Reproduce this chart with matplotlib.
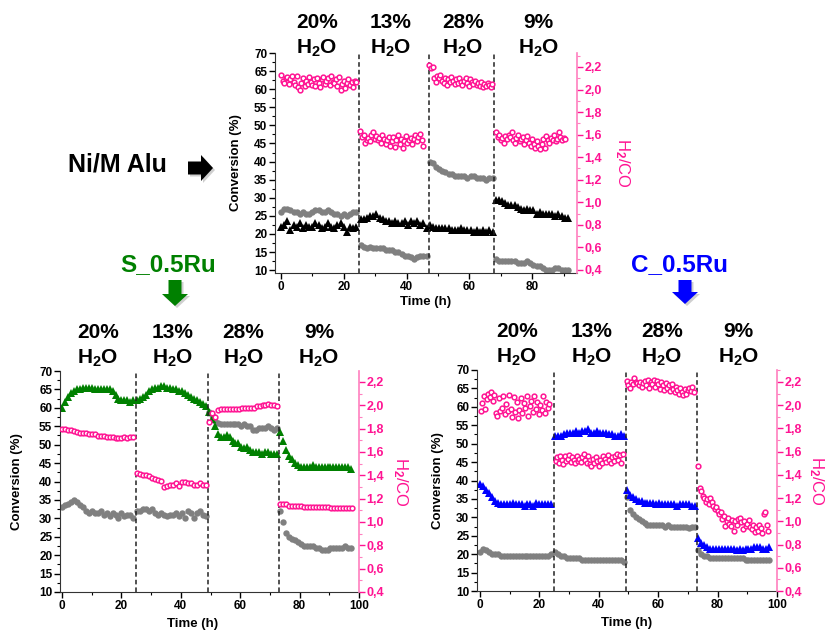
import matplotlib
matplotlib.use('Agg')
import matplotlib.pyplot as plt
import numpy as np
from matplotlib.patches import FancyArrow
from matplotlib.ticker import MultipleLocator, FuncFormatter
from matplotlib.transforms import IdentityTransform

plt.rcParams['font.family'] = ['Liberation Sans', 'DejaVu Sans']
plt.rcParams['font.weight'] = 'bold'
plt.rcParams['mathtext.fontset'] = 'custom'
plt.rcParams['mathtext.rm'] = 'Liberation Sans:bold'
plt.rcParams['mathtext.bf'] = 'Liberation Sans:bold'
plt.rcParams['mathtext.it'] = 'Liberation Sans:bold'

PINK = '#FF1493'
GRAY = '#808080'

headers = ['20%', '13%', '28%', '9%']

# ---- Ni/M Alu (top panel), hourly conversion data, pink = H2/CO every 0.5 h
top_starts = [0, 25.4, 47.4, 68.4]
top_pink_starts = [0, 25.3, 47.3, 68.5]
top_vlines = [25, 47, 68]
top_heads_x = [11.5, 35, 58, 82]
top_gray = [
    [26, 27, 27, 26.5, 26, 26, 25.5, 26, 25.5, 25.5, 26, 26.5, 26.5, 26, 26, 26.5, 26, 25.5, 25.5, 25, 25.5, 25, 25.5, 26, 26],
    [17, 16.5, 16, 16.5, 16, 16, 16, 16, 15.5, 15.5, 15.5, 15, 15, 14.5, 14, 14, 13.5, 13, 13.5, 14, 14, 14],
    [40, 39.5, 38.5, 38, 37.5, 37, 36.5, 36.5, 36, 36, 36, 36, 35.5, 36, 36, 35.5, 35.5, 35.5, 35, 35.5, 35.5],
    [13, 12.5, 12.5, 12.5, 12.5, 12.5, 12.5, 12, 12, 12, 12.5, 12, 11.5, 11, 11, 10.5, 10, 10, 10, 10.5, 10.5, 10, 10, 10],
]
top_tri = [
    [22, 22.5, 23.5, 21, 22.5, 22, 23, 21.5, 22.5, 22, 22, 23, 22.5, 21.5, 22, 23, 22, 21.5, 22.5, 23, 22, 20.5, 22, 21.5, 22],
    [24, 24, 24.5, 25, 25, 25.5, 24.5, 24, 23.5, 23.5, 23, 23.5, 23, 23, 23.5, 22.5, 23.5, 23, 23.5, 22.5, 23, 21.5],
    [22.5, 22, 21.5, 21.5, 21.5, 21.5, 21.5, 21, 21, 21, 21.5, 21, 21, 21, 20.5, 21, 20.5, 21, 20.5, 21, 20.5],
    [29.5, 29.5, 29, 28.5, 28, 28, 28, 27.5, 27, 26.5, 27, 26.5, 26.5, 25.5, 26, 25.5, 25.5, 25.5, 25.5, 25, 25.5, 25, 24.5, 24.5],
]
top_pink = [
    [2.13, 2.08, 2.06, 2.1, 2.11, 2.05, 2.09, 2.12, 2.07, 2.04, 2.12, 2.02, 2.0, 2.06, 2.1, 2.03, 2.08, 2.05, 2.11, 2.07,
     2.04, 2.09, 2.03, 2.1, 2.06, 2.02, 2.09, 2.11, 2.05, 2.08, 2.1, 2.04, 2.12, 2.07, 2.06, 2.09, 2.03, 2.11, 2.0, 2.05,
     2.08, 2.01, 2.06, 2.09, 2.04, 2.07, 2.02, 2.08, 2.07],
    [1.63, 1.58, 1.6, 1.53, 1.55, 1.57, 1.54, 1.6, 1.62, 1.56, 1.59, 1.55, 1.57, 1.53, 1.6, 1.56, 1.52, 1.55, 1.58, 1.5,
     1.54, 1.58, 1.49, 1.55, 1.6, 1.52, 1.56, 1.48, 1.54, 1.59, 1.53, 1.55, 1.57, 1.52, 1.56, 1.6, 1.54, 1.58, 1.61, 1.55, 1.5],
    [2.22, 2.19, 2.2, 2.1, 2.07, 2.12, 2.1, 2.13, 2.08, 2.06, 2.1, 2.04, 2.09, 2.07, 2.11, 2.08, 2.05, 2.09, 2.06, 2.1,
     2.07, 2.04, 2.08, 2.1, 2.06, 2.03, 2.09, 2.07, 2.05, 2.08, 2.04, 2.06, 2.03, 2.07, 2.02, 2.05, 2.03, 2.06, 2.04, 2.02, 2.05],
    [1.62, 1.58, 1.6, 1.55, 1.57, 1.53, 1.59, 1.56, 1.6, 1.58, 1.62, 1.55, 1.53, 1.57, 1.6, 1.54, 1.56, 1.58, 1.52, 1.55,
     1.59, 1.53, 1.5, 1.56, 1.52, 1.48, 1.54, 1.5, 1.47, 1.52, 1.56, 1.48, 1.59, 1.55, 1.53, 1.57, 1.55, 1.6, 1.54, 1.56,
     1.62, 1.58, 1.55, 1.57, 1.56],
]

# ---- S_0.5Ru (bottom left), hourly
s_starts = [0, 25.4, 49.4, 73.4]
s_pink_starts = [0, 25.4, 49.5, 73.5]
s_vlines = [25, 49, 73]
s_heads_x = [12, 37.3, 61, 86.5]
s_tri = [
    [60, 61.5, 63, 64, 64.5, 65, 65, 65.5, 65.5, 65.5, 65.5, 65, 65, 65, 65, 65, 65, 64.5, 63.5, 62.5, 62, 62, 62, 61.5, 62],
    [62, 62.5, 63, 63.5, 64.5, 65, 65.5, 65.5, 66, 66, 65.5, 65.5, 65, 65, 64.5, 64.5, 64, 63.5, 63, 62.5, 62, 61.5, 61, 60.5],
    [59, 57, 55, 53, 52, 52, 52.5, 52, 51, 50.5, 50.5, 49.5, 49, 49.5, 48.5, 48, 48, 48, 47.5, 48, 48, 47.5, 47.5, 47.5],
    [53.5, 51, 48.5, 47, 46, 45, 44.5, 44, 44, 44, 44, 44.5, 44, 44, 44, 44, 44, 44, 44, 44, 44, 44, 44, 44, 43.5],
]
s_gray = [
    [33, 33.5, 34, 34.5, 35, 34.5, 33.5, 33, 32, 31.5, 32, 31.5, 31.5, 32, 31, 31.5, 30.5, 31.5, 31, 30, 31.5, 30.5, 31, 31, 30],
    [32, 32, 32.5, 32.5, 32, 32.5, 31.5, 31, 31.5, 31, 30.5, 31, 31, 31.5, 30.5, 31.5, 30, 32, 31.5, 30, 31.5, 32, 31, 30.5],
    [59, 58, 56.5, 56, 55.5, 55.5, 55.5, 55.5, 55.5, 55.5, 55.5, 55, 55.5, 55, 55, 54, 54, 54.5, 54.5, 54.5, 55, 54.5, 54, 54.5],
    [32, 29, 26, 25, 24.5, 24, 23.5, 23, 22.5, 22.5, 22.5, 22.5, 22, 22, 21.5, 21.5, 21.5, 22, 22, 22, 22, 22, 22.5, 22, 22],
]
s_pink = [
    [1.8, 1.8, 1.79, 1.79, 1.78, 1.77, 1.76, 1.76, 1.76, 1.75, 1.75, 1.75, 1.74, 1.74, 1.74, 1.73, 1.73, 1.73, 1.72, 1.72,
     1.72, 1.73, 1.72, 1.73, 1.73],
    [1.42, 1.41, 1.4, 1.4, 1.39, 1.38, 1.37, 1.36, 1.35, 1.3, 1.31, 1.32, 1.32, 1.33, 1.31, 1.34, 1.34, 1.33, 1.33, 1.32,
     1.32, 1.33, 1.32, 1.32],
    [1.86, 1.93, 1.9, 1.96, 1.97, 1.97, 1.97, 1.97, 1.97, 1.97, 1.97, 1.98, 1.98, 1.98, 1.98, 1.98, 1.99, 1.99, 2.0, 2.0,
     2.01, 2.0, 2.0, 1.99],
    [1.15, 1.15, 1.15, 1.14, 1.14, 1.14, 1.14, 1.14, 1.13, 1.13, 1.13, 1.13, 1.13, 1.13, 1.13, 1.13, 1.13, 1.12, 1.12, 1.12,
     1.12, 1.12, 1.12, 1.12, 1.12],
]

# ---- C_0.5Ru (bottom right), hourly conversion, pink every 0.5 h
c_starts = [0, 25.4, 49.4, 73.4]
c_pink_starts = [0.3, 25.5, 49.5, 73.5]
c_vlines = [25, 49, 73]
c_heads_x = [12.4, 37.7, 61.3, 87]
c_tri = [
    [39, 38.5, 37.5, 36.5, 35.5, 34.5, 34, 33.5, 33.5, 33.5, 33.5, 34, 33.5, 33.5, 33.5, 33, 33.5, 33.5, 33, 34, 33.5, 33.5, 33.5, 33.5, 33.5],
    [52, 52, 52, 52.5, 53, 53, 53, 53.5, 53, 53.5, 53.5, 54, 53, 53, 53.5, 53, 53, 53, 52.5, 52.5, 52, 52, 52.5, 52],
    [37.5, 36, 35.5, 35, 34.5, 34.5, 34, 34, 34, 34, 33.5, 34, 33.5, 33.5, 33.5, 33.5, 33.5, 33, 33.5, 33.5, 33.5, 33.5, 33, 33],
    [24.5, 23, 22.5, 22, 21.5, 21.5, 21.5, 21.5, 21.5, 21.5, 21.5, 21.5, 21.5, 21, 21.5, 21, 21.5, 21.5, 21.5, 22, 22, 22, 21.5, 21.5, 22],
]
c_gray = [
    [20.5, 21.5, 21, 20.5, 20, 20, 20, 19.5, 19.5, 19.5, 19.5, 19.5, 19.5, 19.5, 19.5, 19.5, 19.5, 19.5, 19.5, 19.5, 19.5, 19.5, 19.5, 19.5, 20],
    [20.5, 20, 19.5, 19.5, 19, 19, 19, 19, 19, 18.5, 18.5, 18.5, 18.5, 18.5, 18.5, 18.5, 18.5, 18.5, 18.5, 18.5, 18.5, 18.5, 18.5, 18],
    [35.5, 32, 31, 30, 29.5, 29, 28.5, 28, 28, 28, 28, 28, 28, 27.5, 28, 27.5, 27.5, 27.5, 27.5, 27.5, 27.5, 27, 27.5, 27.5],
    [21, 20, 19.5, 19.5, 19, 19, 19, 19, 19, 19, 19, 19, 19, 19, 19, 19, 18.5, 18.5, 18.5, 18.5, 18.5, 18.5, 18.5, 18.5, 18.5],
]
c_pink = [
    [1.95, 2.02, 2.08, 1.97, 2.05, 2.1, 2.07, 2.11, 2.04, 2.09, 1.93, 1.91, 2.06, 1.95, 1.98, 2.08, 1.92, 2.01, 1.95, 2.09,
     1.97, 1.9, 2.07, 1.94, 2.03, 1.89, 1.96, 2.06, 1.93, 2.02, 1.98, 2.08, 1.91, 1.99, 2.04, 1.94, 2.08, 1.97, 2.03, 1.92,
     2.0, 1.96, 2.08, 1.93, 2.03, 1.98, 2.01],
    [1.52, 1.55, 1.5, 1.56, 1.53, 1.49, 1.56, 1.52, 1.54, 1.57, 1.51, 1.55, 1.53, 1.5, 1.56, 1.52, 1.54, 1.51, 1.55, 1.58,
     1.53, 1.5, 1.56, 1.49, 1.48, 1.54, 1.5, 1.55, 1.52, 1.48, 1.53, 1.5, 1.56, 1.54, 1.51, 1.57, 1.53, 1.5, 1.55, 1.52,
     1.56, 1.58, 1.53, 1.57, 1.5, 1.58],
    [2.21, 2.17, 2.15, 2.2, 2.18, 2.23, 2.2, 2.19, 2.17, 2.2, 2.16, 2.19, 2.21, 2.17, 2.22, 2.15, 2.2, 2.18, 2.22, 2.16,
     2.21, 2.18, 2.14, 2.2, 2.17, 2.13, 2.19, 2.15, 2.17, 2.12, 2.18, 2.14, 2.11, 2.16, 2.13, 2.1, 2.15, 2.11, 2.09, 2.14,
     2.1, 2.13, 2.15, 2.12, 2.16, 2.11],
    [1.48, 1.29, 1.26, 1.22, 1.2, 1.17, 1.19, 1.15, 1.2, 1.17, 1.13, 1.11, 1.12, 1.09, 1.06, 1.08, 1.02, 1.05, 0.96, 1.0,
     1.03, 0.98, 0.96, 1.01, 0.92, 1.0, 0.97, 1.02, 1.03, 0.99, 0.93, 1.0, 0.96, 0.98, 1.01, 0.95, 0.93, 0.97, 0.91, 0.95,
     0.92, 0.97, 0.94, 0.9, 1.06, 1.08, 0.97, 0.92],
]


def seg_times(starts, segs, step):
    t, v = [], []
    for s, vals in zip(starts, segs):
        t.extend(s + step * np.arange(len(vals)))
        v.extend(vals)
    return np.array(t), np.array(v)


def panel(fig, rect, xlim, ylim, y2lim, starts, gray, tri, tri_color, pstarts, pink, pstep,
          vlines, heads_x, head_y, ylab_x, y2lab_x, xlab_pos):
    ax = fig.add_axes(rect)
    ax2 = ax.twinx()
    t, v = seg_times(starts, gray, 1.0)
    ax.plot(t, v, 'o', color=GRAY, ms=4.6, mew=0)
    t, v = seg_times(starts, tri, 1.0)
    ax.plot(t, v, '^', color=tri_color, ms=5.6, mew=0)
    t, v = seg_times(pstarts, pink, pstep)
    ax2.plot(t, v, 'o', mfc='white', mec=PINK, ms=3.4, mew=1.1)
    for x in vlines:
        ax.axvline(x, color='#222222', lw=1.1, ls=(0, (3, 2)))

    ax.set_xlim(*xlim)
    ax.set_ylim(*ylim)
    ax2.set_ylim(*y2lim)
    ax.xaxis.set_major_locator(MultipleLocator(20))
    ax.xaxis.set_minor_locator(MultipleLocator(10))
    ax.yaxis.set_major_locator(MultipleLocator(5))
    ax.yaxis.set_minor_locator(MultipleLocator(2.5))
    ax2.set_yticks(np.arange(0.4, 2.21, 0.2))
    ax2.yaxis.set_minor_locator(MultipleLocator(0.1))
    ax2.yaxis.set_major_formatter(FuncFormatter(lambda val, pos: f'{val:.1f}'.replace('.', ',')))

    for a in (ax, ax2):
        a.spines['top'].set_visible(False)
    ax.spines['right'].set_visible(False)
    ax2.spines['left'].set_visible(False)
    ax2.spines['bottom'].set_visible(False)
    ax2.spines['right'].set_color('#FF7FBF')
    ax2.spines['right'].set_linewidth(1.2)
    ax.spines['left'].set_color('#333333')
    ax.spines['bottom'].set_color('#333333')
    ax.tick_params(which='major', direction='out', length=4, width=1, labelsize=8.5, pad=1.5)
    ax.tick_params(which='minor', direction='out', length=2, width=0.8)
    ax2.tick_params(which='major', direction='out', length=4, width=1, labelsize=9, pad=1.5,
                    colors=PINK)
    ax2.tick_params(which='minor', direction='out', length=2, width=0.8, colors='#FF7FBF')
    for lab in ax.get_xticklabels() + ax.get_yticklabels() + ax2.get_yticklabels():
        lab.set_fontweight('bold')

    ax.set_ylabel('Conversion (%)', fontsize=9.5, fontweight='bold')
    ax.yaxis.set_label_coords(ylab_x, 0.5)
    ax.set_xlabel('Time (h)', fontsize=9.5, fontweight='bold')
    ax.xaxis.set_label_coords(*xlab_pos)
    ax2.set_ylabel('H$_2$/CO', fontsize=12, color=PINK, rotation=270, va='center')
    ax2.yaxis.set_label_coords(y2lab_x, 0.5)

    for hx, h in zip(heads_x, headers):
        ax.annotate(h, (hx, head_y[0]), xycoords=('data', 'axes fraction'), ha='center', va='center',
                    fontsize=15, fontweight='bold', annotation_clip=False)
        ax.annotate(r'H$_2$O', (hx, head_y[1]), xycoords=('data', 'axes fraction'), ha='center',
                    va='center', fontsize=15, fontweight='bold', annotation_clip=False)
    return ax


fig = plt.figure(figsize=(8.25, 6.32), dpi=100)

panel(fig, [275 / 825, 359 / 632, 302 / 825, 220 / 632], (-1.9, 94.3), (9.2, 70), (0.373, 2.324),
      top_starts, top_gray, top_tri, 'black', top_pink_starts, top_pink, 0.5,
      top_vlines, top_heads_x, (1.138, 1.02), -0.109, 1.15, (0.5, -0.105))
panel(fig, [60 / 825, 40 / 632, 299 / 825, 221 / 632], (-0.7, 100), (10, 70), (0.4, 2.294),
      s_starts, s_gray, s_tri, '#008000', s_pink_starts, s_pink, 1.0,
      s_vlines, s_heads_x, (1.172, 1.058), -0.124, 1.137, (0.445, -0.118))
panel(fig, [477 / 825, 41 / 632, 300 / 825, 221 / 632], (-1, 100), (10, 70), (0.4, 2.303),
      c_starts, c_gray, c_tri, '#0000FF', c_pink_starts, c_pink, 0.5,
      c_vlines, c_heads_x, (1.172, 1.058), -0.11, 1.132, (0.5, -0.118))

# sample names and arrows (pixel coordinates, origin bottom left)
fig.text(117 / 825, 1 - 164 / 632, 'Ni/M Alu', ha='center', va='center', fontsize=18, fontweight='bold')
fig.text(168 / 825, 1 - 265 / 632, 'S_0.5Ru', ha='center', va='center', fontsize=17.5, fontweight='bold',
         color='#008000')
fig.text(680 / 825, 1 - 265 / 632, 'C_0.5Ru', ha='center', va='center', fontsize=17.5, fontweight='bold',
         color='#0000FF')

pix = IdentityTransform()
arrows = [
    (188, 632 - 168, 25, 0, 'black'),
    (175, 632 - 280, 0, -26, '#008000'),
    (685, 632 - 280, 0, -24, '#0000FF'),
]
for x, y, dx, dy, col in arrows:
    fig.add_artist(FancyArrow(x + 2, y - 2, dx, dy, width=13, head_width=26, head_length=12,
                              length_includes_head=True, color='#B0B0B0', alpha=0.6, transform=pix, lw=0))
    fig.add_artist(FancyArrow(x, y, dx, dy, width=13, head_width=26, head_length=12,
                              length_includes_head=True, color=col, transform=pix, lw=0))

fig.savefig('out.png', dpi=100)
